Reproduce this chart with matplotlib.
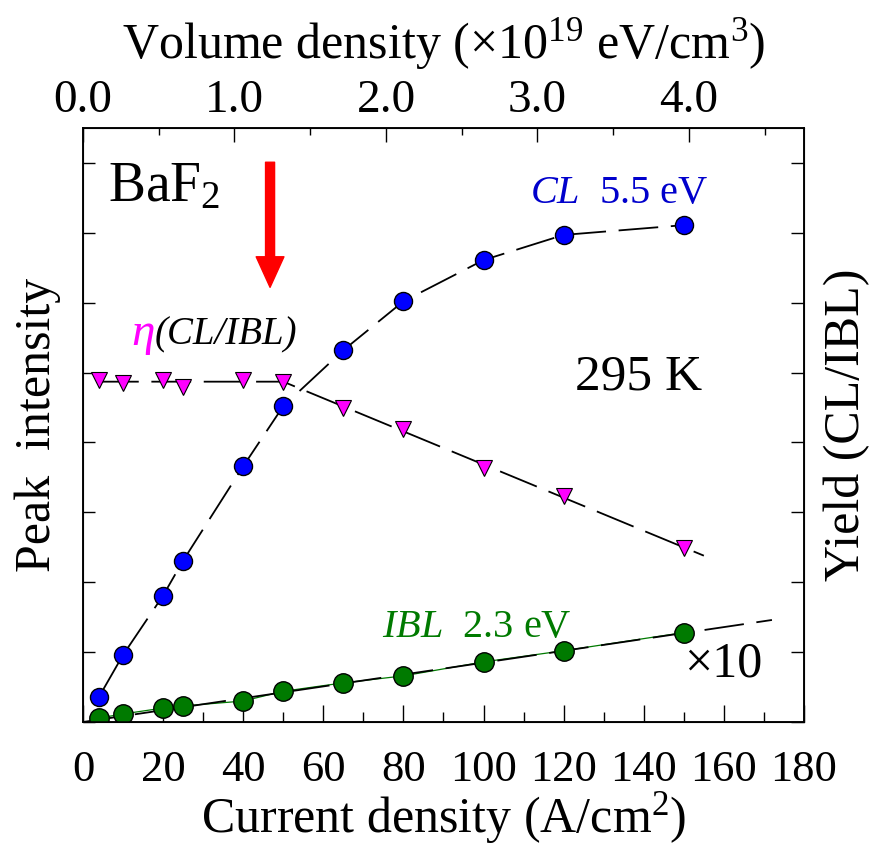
import matplotlib
matplotlib.use('Agg')
import matplotlib.pyplot as plt
from matplotlib.ticker import MultipleLocator, FixedLocator

plt.rcParams['font.family'] = ['Liberation Serif', 'DejaVu Serif']
plt.rcParams['mathtext.fontset'] = 'custom'
plt.rcParams['mathtext.rm'] = 'Liberation Serif'
plt.rcParams['mathtext.it'] = 'Liberation Serif:italic'

# ---------------- data ----------------
current = [4, 10, 20, 25, 40, 50, 65, 80, 100, 120, 150]          # A/cm^2
cl_peak = [0.36, 0.96, 1.81, 2.31, 3.66, 4.52, 5.32, 6.02, 6.61, 6.97, 7.11]
ibl_peak = [0.057, 0.115, 0.20, 0.23, 0.30, 0.44, 0.56, 0.66, 0.86, 1.02, 1.28]
eta_yield = [4.89, 4.85, 4.90, 4.79, 4.90, 4.86, 4.50, 4.19, 3.64, 3.24, 2.49]

ibl_fit_x = [0, 172]
ibl_fit_y = [0, 1.46]
eta_fit_x = [4, 50, 155]
eta_fit_y = [4.87, 4.87, 2.38]

x_ticks = [0, 20, 40, 60, 80, 100, 120, 140, 160, 180]
top_ticks = [0.0, 1.0, 2.0, 3.0, 4.0]
top_tick_labels = ['0.0', '1.0', '2.0', '3.0', '4.0']
top_max = 4.76
arrow_x = 46.7
arrow_y = [8.01, 6.22]

BLUE = '#0000FF'
GREEN = '#007A00'
MAGENTA = '#FF00FF'
TEXT_BLUE = '#0000CC'

fig = plt.figure(figsize=(8.74, 8.5), dpi=100)
ax = fig.add_axes([83/874, 128/850, 721/874, 594/850])

dash = dict(color='black', lw=1.3, dashes=(22, 7))

# CL curve
ax.plot(current, cl_peak, **dash, zorder=2)
ax.plot(current, cl_peak, 'o', ms=13, mfc=BLUE, mec='black', mew=1.0, zorder=4)

# IBL
ax.plot(current, ibl_peak, color=GREEN, lw=0.9, zorder=2)
ax.plot(ibl_fit_x, ibl_fit_y, **dash, zorder=2)
ax.plot(current, ibl_peak, 'o', ms=14, mfc=GREEN, mec='black', mew=1.0, zorder=4)

ax.set_xlim(0, 180)
ax.set_ylim(0, 8.5)
ax.xaxis.set_major_locator(FixedLocator(x_ticks))
ax.xaxis.set_minor_locator(MultipleLocator(10))
ax.yaxis.set_major_locator(MultipleLocator(1))
ax.set_yticklabels([])
ax.tick_params(axis='x', which='major', direction='in', length=12, width=1.0,
               labelsize=32, pad=20)
ax.tick_params(axis='x', which='minor', direction='in', length=7, width=1.0)
ax.tick_params(axis='y', which='major', direction='in', length=8.6, width=1.0,
               labelleft=False)
for s in ax.spines.values():
    s.set_linewidth(1.1)

ax.set_xlabel('Current density (A/cm$^2$)', fontsize=36, labelpad=0)
ax.set_ylabel('Peak  intensity', fontsize=36, labelpad=16)

# right axis: yield
axr = ax.twinx()
axr.set_ylim(0, 8.5)
axr.plot(eta_fit_x, eta_fit_y, **dash, zorder=2)
axr.plot(current, eta_yield, 'v', ms=11, mfc=MAGENTA, mec='black', mew=0.8, zorder=4)
axr.yaxis.set_major_locator(MultipleLocator(1))
axr.tick_params(axis='y', which='major', direction='in', length=9.4, width=1.0,
                labelright=False)
axr.set_ylabel('Yield (CL/IBL)', fontsize=36, labelpad=14)

# top axis: volume density
axt = ax.twiny()
axt.set_xlim(0, top_max)
axt.xaxis.set_major_locator(FixedLocator(top_ticks))
axt.set_xticklabels(top_tick_labels)
axt.xaxis.set_minor_locator(MultipleLocator(0.5))
axt.tick_params(axis='x', which='major', direction='in', length=10, width=1.0,
                labelsize=34, pad=4)
axt.tick_params(axis='x', which='minor', direction='in', length=5, width=1.0)
axt.set_xlabel('Volume density (×10$^{19}$ eV/cm$^3$)', fontsize=36, labelpad=16)
for s in axt.spines.values():
    s.set_linewidth(1.1)

# arrow
ax.annotate('', xy=(arrow_x, arrow_y[1]), xytext=(arrow_x, arrow_y[0]),
            arrowprops=dict(facecolor='red', edgecolor='red', width=6.5,
                            headwidth=20, headlength=22, shrink=0), zorder=5)

# annotations
ax.text(6.2, 7.45, 'BaF$_2$', fontsize=40, ha='left', va='baseline')
ax.text(111.6, 7.43, '$\\mathit{CL}$  5.5 eV', fontsize=29, color=TEXT_BLUE,
        ha='left', va='baseline')
ax.text(12.0, 5.40, '$\\eta$', fontsize=34, color=MAGENTA, ha='left', va='baseline')
ax.text(17.8, 5.40, '(CL/IBL)', fontsize=28, style='italic', ha='left', va='baseline')
ax.text(122.8, 4.76, '295 K', fontsize=37, ha='left', va='baseline')
ax.text(74.6, 1.22, '$\\mathit{IBL}$  2.3 eV', fontsize=29, color=GREEN,
        ha='left', va='baseline')
ax.text(150, 0.645, '×10', fontsize=36, ha='left', va='baseline')

fig.savefig('out.png', dpi=100)
